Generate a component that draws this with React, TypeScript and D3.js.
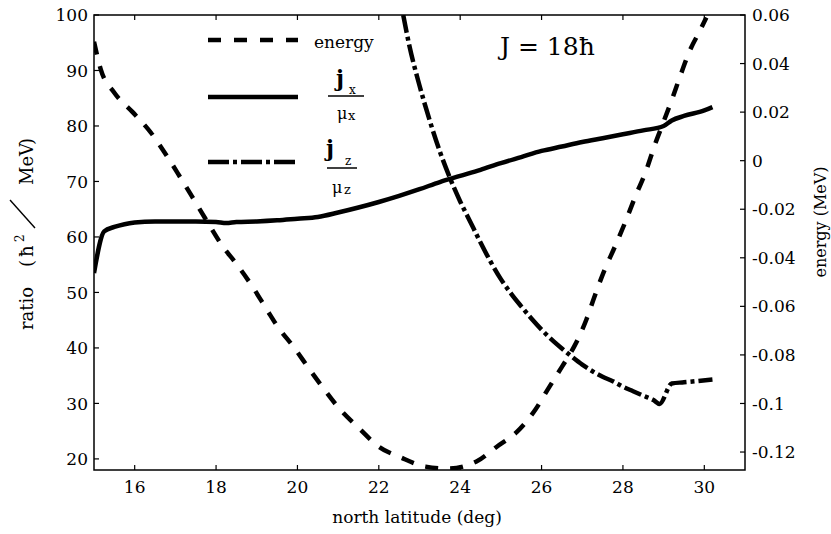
import React from 'react';
import * as d3 from 'd3';

// axis ticks
const latTicks = [16, 18, 20, 22, 24, 26, 28, 30];
const ratioTicks = [20, 30, 40, 50, 60, 70, 80, 90, 100];
const energyTicks = [0.06, 0.04, 0.02, 0, -0.02, -0.04, -0.06, -0.08, -0.1, -0.12];
const energyTickLabels = ['0.06', '0.04', '0.02', '0', '-0.02', '-0.04', '-0.06', '-0.08', '-0.1', '-0.12'];

// energy (MeV), right axis
const energyLat = [15.0, 15.17, 15.5, 15.95, 16.4, 16.75, 17.1, 17.4, 17.8, 18.15, 18.5, 18.9, 19.25, 19.5, 19.9, 20.3, 20.65, 21.05, 21.5, 22.0, 22.55, 23.15, 23.7, 24.4, 24.9, 25.4, 25.85, 26.15, 26.5, 26.8, 27.1, 27.3, 27.55, 27.8, 28.05, 28.3, 28.55, 28.8, 28.95, 29.2, 29.4, 29.65, 29.9, 30.05];
const energyVal = [0.049, 0.0374, 0.028, 0.02, 0.0115, 0.003, -0.0063, -0.0145, -0.0256, -0.035, -0.0425, -0.052, -0.0614, -0.068, -0.0766, -0.086, -0.094, -0.1025, -0.11, -0.1178, -0.1223, -0.126, -0.1268, -0.1239, -0.1178, -0.1116, -0.1025, -0.0943, -0.0849, -0.0766, -0.0655, -0.056, -0.0449, -0.0355, -0.0256, -0.0149, -0.005, 0.0073, 0.0139, 0.025, 0.0345, 0.0456, 0.0538, 0.059];

// jx / mu_x, left axis
const jxLat = [15.0, 15.25, 15.5, 15.75, 16.0, 16.5, 17.0, 17.5, 18.0, 18.25, 18.5, 19.0, 19.5, 20.0, 20.5, 21.0, 21.5, 22.0, 22.5, 23.0, 23.5, 24.0, 24.5, 25.0, 25.5, 26.0, 26.5, 27.0, 27.5, 28.0, 28.5, 29.0, 29.2, 29.5, 30.0, 30.2];
const jxVal = [53.5, 61.0, 61.8, 62.3, 62.6, 62.8, 62.8, 62.8, 62.7, 62.5, 62.7, 62.8, 63.0, 63.3, 63.6, 64.4, 65.3, 66.3, 67.4, 68.6, 69.9, 71.0, 72.1, 73.3, 74.4, 75.5, 76.3, 77.1, 77.8, 78.5, 79.2, 80.0, 81.0, 81.8, 82.8, 83.4];

// jz / mu_z, left axis
const jzLat = [22.6, 22.75, 23.0, 23.25, 23.5, 23.75, 24.0, 24.25, 24.5, 24.75, 25.0, 25.25, 25.5, 25.75, 26.0, 26.25, 26.5, 26.75, 27.0, 27.25, 27.5, 27.75, 28.0, 28.25, 28.5, 28.75, 28.9, 29.2, 29.5, 30.2];
const jzVal = [100, 94.5, 87.3, 81.0, 75.4, 70.6, 66.4, 62.7, 59.0, 55.5, 52.4, 49.8, 47.5, 45.3, 43.3, 41.5, 39.9, 38.4, 37.0, 35.8, 34.8, 34.0, 33.0, 32.2, 31.4, 30.6, 29.9, 33.6, 33.8, 34.3];

const W = 831;
const H = 534;
const L = 94, R = 745, T = 15, B = 470;
const FONT = '"DejaVu Serif", serif';

const App = () => {
  const x = d3.scaleLinear().domain([15, 31]).range([L, R]);
  const yL = d3.scaleLinear().domain([18, 100]).range([B, T]);
  const yR = d3.scaleLinear().domain([-0.1274, 0.06]).range([B, T]);

  const lineL = d3.line<[number, number]>()
    .x(d => x(d[0]))
    .y(d => yL(d[1]))
    .curve(d3.curveMonotoneX);
  const lineR = d3.line<[number, number]>()
    .x(d => x(d[0]))
    .y(d => yR(d[1]))
    .curve(d3.curveMonotoneX);

  const energyPts = energyLat.map((v, i) => [v, energyVal[i]] as [number, number]);
  const jxPts = jxLat.map((v, i) => [v, jxVal[i]] as [number, number]);
  const jzPts = jzLat.map((v, i) => [v, jzVal[i]] as [number, number]);

  const dashed = '13 12';
  const dashDot = '18 4 4 4';
  const sw = 4.5;

  return (
    <svg width={W} height={H} style={{ display: 'block', background: '#fff' }} fontFamily={FONT}>
      <style>{'body{margin:0}'}</style>
      <defs>
        <clipPath id="plot">
          <rect x={L} y={T} width={R - L} height={B - T} />
        </clipPath>
      </defs>

      {/* curves */}
      <g clipPath="url(#plot)" fill="none" stroke="#000" strokeWidth={sw}>
        <path d={lineR(energyPts) || ''} strokeDasharray={dashed} />
        <path d={lineL(jxPts) || ''} strokeLinejoin="round" />
        <path d={lineL(jzPts) || ''} strokeDasharray={dashDot} />
      </g>

      {/* frame */}
      <rect x={L} y={T} width={R - L} height={B - T} fill="none" stroke="#000" strokeWidth={1.5} />

      {/* x ticks bottom & top */}
      {latTicks.map(t => (
        <g key={'x' + t}>
          <line x1={x(t)} x2={x(t)} y1={B} y2={B - 5} stroke="#000" strokeWidth={1.2} />
          <line x1={x(t)} x2={x(t)} y1={T} y2={T + 5} stroke="#000" strokeWidth={1.2} />
          <text x={x(t)} y={493} textAnchor="middle" fontSize={17}>{t}</text>
        </g>
      ))}

      {/* left ticks */}
      {ratioTicks.map(t => (
        <g key={'l' + t}>
          <line x1={L} x2={L + 5} y1={yL(t)} y2={yL(t)} stroke="#000" strokeWidth={1.2} />
          <text x={88} y={yL(t)} dy="0.36em" textAnchor="end" fontSize={17}>{t}</text>
        </g>
      ))}

      {/* right ticks */}
      {energyTicks.map((t, i) => (
        <g key={'r' + i}>
          <line x1={R} x2={R - 5} y1={yR(t)} y2={yR(t)} stroke="#000" strokeWidth={1.2} />
          <text x={752} y={yR(t)} dy="0.36em" textAnchor="start" fontSize={17}>{energyTickLabels[i]}</text>
        </g>
      ))}

      {/* axis titles */}
      <text x={417} y={523} textAnchor="middle" fontSize={17}>north latitude (deg)</text>
      <text transform="translate(826,222) rotate(-90)" textAnchor="middle" fontSize={16}>energy (MeV)</text>

      <g transform="translate(33,231) rotate(-90)" fontSize={18}>
        <text x={-99} y={0}>ratio</text>
        <text x={-36} y={0}>(</text>
        <text x={-26} y={0}>ħ</text>
        <text x={-11} y={-9} fontSize={12}>2</text>
        <line x1={3} y1={2} x2={31} y2={-23} stroke="#000" strokeWidth={1.4} />
        <text x={46} y={0}>MeV</text>
        <text x={86} y={0}>)</text>
      </g>

      {/* J label */}
      <text x={500} y={55} fontSize={25}>J = 18ħ</text>

      {/* legend */}
      <g stroke="#000" strokeWidth={sw} fill="none">
        <line x1={208} x2={298} y1={40} y2={40} strokeDasharray="13 13" />
        <line x1={208} x2={298} y1={97} y2={97} />
        <line x1={208} x2={298} y1={162} y2={162} strokeDasharray="21 4 4 4" />
      </g>
      <text x={314} y={48} fontSize={17}>energy</text>

      <text x={336} y={86} fontSize={22} fontWeight="bold">j</text>
      <text x={349} y={94} fontSize={12}>x</text>
      <line x1={328} x2={364} y1={96} y2={96} stroke="#000" strokeWidth={1.5} />
      <text x={337} y={119} fontSize={16}>μ</text>
      <text x={348} y={120} fontSize={13}>x</text>

      <text x={326} y={156} fontSize={22} fontWeight="bold">j</text>
      <text x={345} y={165} fontSize={12}>z</text>
      <line x1={327} x2={357} y1={168} y2={168} stroke="#000" strokeWidth={1.5} />
      <text x={332} y={193} fontSize={16}>μ</text>
      <text x={344} y={194} fontSize={13}>z</text>
    </svg>
  );
};

export default App;
